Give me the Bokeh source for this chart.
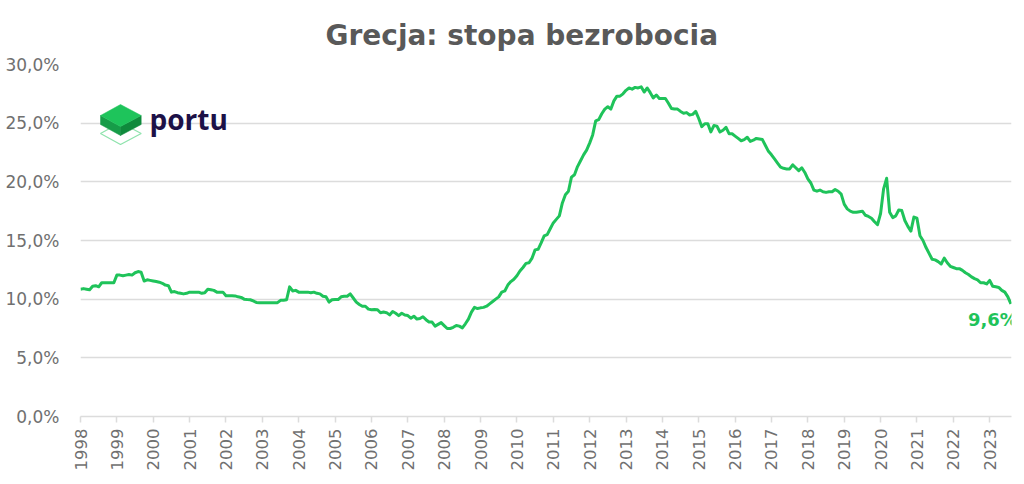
from bokeh.plotting import figure
from bokeh.models import FixedTicker, CustomJSTickFormatter, Label, Title, Range1d
from bokeh.core.properties import value
from bokeh.embed import file_html
from bokeh.resources import INLINE

# ---------------- data ----------------
title_text = "Grecja: stopa bezrobocia"
start_year = 1998  # monthly series starting January 1998
unemployment_pct = [
    10.85, 10.9, 10.85, 10.8, 11.1, 11.15, 11.05, 11.4, 11.4, 11.4, 11.4, 11.4,       # 1998
    12.05, 12.05, 12.0, 12.05, 12.1, 12.05, 12.25, 12.35, 12.3, 11.55, 11.65, 11.6,   # 1999
    11.55, 11.5, 11.45, 11.35, 11.2, 11.15, 10.6, 10.65, 10.55, 10.5, 10.45, 10.5,    # 2000
    10.6, 10.6, 10.6, 10.6, 10.5, 10.55, 10.85, 10.8, 10.75, 10.6, 10.6, 10.6,        # 2001
    10.3, 10.3, 10.3, 10.28, 10.2, 10.15, 10.0, 9.97, 9.95, 9.85, 9.72, 9.7,          # 2002
    9.7, 9.7, 9.7, 9.7, 9.7, 9.7, 9.9, 9.9, 9.95, 11.05, 10.7, 10.75,                 # 2003
    10.6, 10.6, 10.6, 10.6, 10.55, 10.6, 10.5, 10.45, 10.25, 10.2, 9.75, 9.95,        # 2004
    9.97, 9.97, 10.2, 10.25, 10.25, 10.45, 10.1, 9.75, 9.55, 9.4, 9.4, 9.15,          # 2005
    9.1, 9.12, 9.1, 8.84, 8.9, 8.85, 8.66, 8.95, 8.8, 8.6, 8.8, 8.65,                 # 2006
    8.6, 8.38, 8.55, 8.3, 8.35, 8.5, 8.25, 8.05, 8.05, 7.7, 7.85, 8.0,                # 2007
    7.75, 7.5, 7.5, 7.6, 7.76, 7.7, 7.55, 7.9, 8.3, 8.9, 9.3, 9.2,                    # 2008
    9.26, 9.3, 9.4, 9.6, 9.8, 10.0, 10.2, 10.6, 10.7, 11.2, 11.5, 11.7,               # 2009
    12.0, 12.4, 12.7, 13.05, 13.1, 13.5, 14.2, 14.25, 14.8, 15.4, 15.5, 16.0,         # 2010
    16.5, 16.8, 17.1, 18.2, 18.9, 19.2, 20.4, 20.6, 21.3, 21.8, 22.3, 22.7,           # 2011
    23.3, 24.0, 25.2, 25.3, 25.8, 26.2, 26.4, 26.2, 26.9, 27.3, 27.3, 27.5,           # 2012
    27.8, 28.0, 27.9, 28.05, 28.0, 28.1, 27.65, 28.0, 27.6, 27.15, 27.4, 27.1,        # 2013
    27.1, 27.1, 26.7, 26.25, 26.2, 26.2, 26.0, 25.85, 25.9, 25.7, 25.75, 26.0,        # 2014
    25.4, 24.7, 24.95, 24.95, 24.25, 24.8, 24.75, 24.25, 24.4, 24.65, 24.1, 24.1,     # 2015
    23.9, 23.7, 23.5, 23.6, 23.8, 23.45, 23.55, 23.7, 23.65, 23.6, 23.1, 22.6,        # 2016
    22.3, 21.95, 21.6, 21.25, 21.15, 21.1, 21.1, 21.45, 21.2, 20.95, 21.2, 20.8,      # 2017
    20.25, 19.9, 19.3, 19.2, 19.3, 19.15, 19.1, 19.15, 19.15, 19.35, 19.2, 18.95,     # 2018
    18.1, 17.7, 17.5, 17.4, 17.4, 17.45, 17.5, 17.15, 17.05, 16.9, 16.6, 16.35,       # 2019
    17.3, 19.4, 20.3, 17.4, 16.95, 17.1, 17.6, 17.55, 16.7, 16.2, 15.8, 17.0,         # 2020
    16.9, 15.4, 15.0, 14.4, 13.9, 13.4, 13.35, 13.2, 13.0, 13.5, 13.1, 12.8,          # 2021
    12.7, 12.6, 12.6, 12.45, 12.25, 12.1, 11.9, 11.75, 11.65, 11.4, 11.4, 11.3,       # 2022
    11.6, 11.1, 11.05, 11.0, 10.75, 10.6, 10.2, 9.6,                                  # 2023
]
tick_years = list(range(1998, 2024))
y_ticks = [0, 5, 10, 15, 20, 25, 30]
last_label = "9,6%"
logo_text = "portu"

# ---------------- layout / style ----------------
GREEN = "#1fc35a"
GREY_TEXT = "#707070"
GRID = "#dcdcdc"
FONT = "DejaVu Sans"

x_vals = [start_year + i / 12 for i in range(len(unemployment_pct))]
x_start, x_end = 1998.0, 2023.6
y_start, y_end = 0, 30

FRAME_L, FRAME_R, FRAME_T, FRAME_B = 80, 1011, 64, 416
W, H = 1020, 480

p = figure(width=W, height=H, output_backend="svg", toolbar_location=None,
           x_range=Range1d(x_start, x_end), y_range=Range1d(y_start, y_end),
           min_border_left=FRAME_L, min_border_right=W - FRAME_R,
           min_border_top=FRAME_T, min_border_bottom=H - FRAME_B)
p.outline_line_color = None
p.background_fill_color = "white"
p.border_fill_color = "white"

p.title = Title(text=title_text, align="left", offset=245, text_font_size="28px",
                text_font_style="bold", text_color="#595959", text_font=FONT, standoff=26)

# axes
p.xaxis.ticker = FixedTicker(ticks=tick_years)
p.xaxis.major_label_orientation = 1.5707963
p.xaxis.major_label_text_font = FONT
p.xaxis.major_label_text_font_size = "16.5px"
p.xaxis.major_label_text_color = GREY_TEXT
p.xaxis.axis_line_color = GRID
p.xaxis.axis_line_width = 1.5
p.xaxis.major_tick_line_color = GRID
p.xaxis.major_tick_line_width = 1.5
p.xaxis.major_tick_out = 6
p.xaxis.major_tick_in = 0
p.xaxis.minor_tick_line_color = None
p.xaxis.major_label_standoff = 6

p.yaxis.ticker = FixedTicker(ticks=y_ticks)
p.yaxis.formatter = CustomJSTickFormatter(code="return tick.toFixed(1).replace('.', ',') + '%';")
p.yaxis.major_label_text_font = FONT
p.yaxis.major_label_text_font_size = "17px"
p.yaxis.major_label_text_color = GREY_TEXT
p.yaxis.axis_line_color = None
p.yaxis.major_tick_line_color = None
p.yaxis.minor_tick_line_color = None
p.yaxis.major_label_standoff = 15

p.xgrid.grid_line_color = None
p.ygrid.grid_line_color = GRID
p.ygrid.grid_line_width = 1.5

# ---------------- logo (decoration, placed by pixel position) ----------------
def px_x(px):
    return x_start + (px - FRAME_L) / (FRAME_R - FRAME_L) * (x_end - x_start)
def px_y(py):
    return y_start + (FRAME_B - py) / (FRAME_B - FRAME_T) * (y_end - y_start)

outline = [(100, 133), (120, 122), (140.7, 133), (120, 144)]
top_face = [(100, 115), (120, 104), (140.7, 115), (120, 126)]
left_face = [(100, 115), (120, 126), (120, 135), (100, 124)]
right_face = [(120, 126), (140.7, 115), (140.7, 124), (120, 135)]

def poly(pts):
    return [px_x(a) for a, b in pts], [px_y(b) for a, b in pts]

ox, oy = poly(outline)
p.patch(ox, oy, fill_color=None, line_color="#8fe3ad", line_width=1.3)
for pts, col in [(left_face, "#169c48"), (right_face, "#0f8a3c"), (top_face, "#1ec45b")]:
    xs, ys = poly(pts)
    p.patch(xs, ys, fill_color=col, line_color=col, line_width=0.5)

p.add_layout(Label(x=px_x(149), y=px_y(118), text=logo_text, text_font="Open Sans",
                   text_font_size="28px", text_font_style="bold", text_color="#1d1147",
                   text_baseline="alphabetic", text_align="left"))

# ---------------- data line ----------------
p.line(x_vals, unemployment_pct, line_color=GREEN, line_width=3, line_join="round")

p.add_layout(Label(x=x_vals[-1], y=unemployment_pct[-1], text=last_label, text_font=FONT,
                   text_font_size="18px", text_font_style="bold", text_color=GREEN,
                   text_align="right", text_baseline="middle", x_offset=7, y_offset=-16))

open("out.html", "w").write(file_html(p, INLINE))
